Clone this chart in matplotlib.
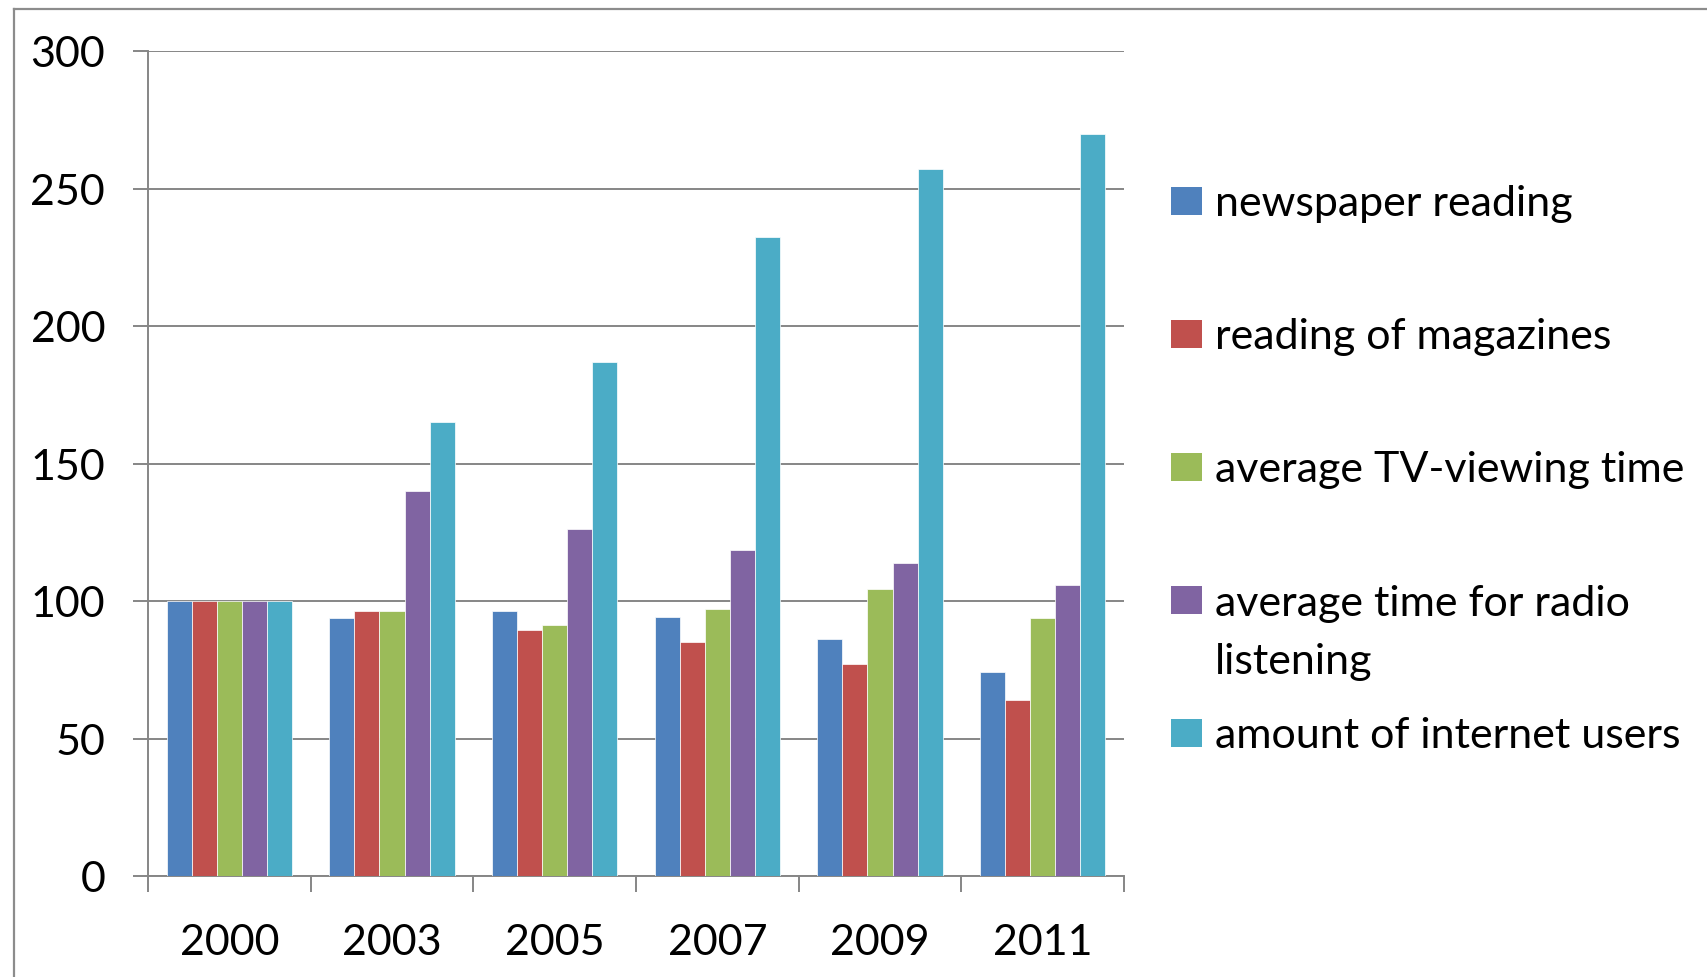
import matplotlib
matplotlib.use("Agg")
import matplotlib.pyplot as plt
import numpy as np
from matplotlib.lines import Line2D
from matplotlib.patches import Rectangle

years = ["2000", "2003", "2005", "2007", "2009", "2011"]
newspaper = [100, 94, 96.4, 94.1, 86.2, 74.1]
magazines = [100, 96.4, 89.6, 85.2, 77.2, 64.0]
tv_time = [100, 96.4, 91.1, 97.2, 104.2, 94.0]
radio_time = [100, 140, 126.1, 118.4, 113.8, 105.7]
internet_users = [100, 165, 187, 232.5, 257, 270]

series_names = ["newspaper reading", "reading of magazines", "average TV-viewing time",
                "average time for radio\nlistening", "amount of internet users"]
series_values = [newspaper, magazines, tv_time, radio_time, internet_users]
colors = ["#4F81BD", "#C0504D", "#9BBB59", "#8064A2", "#4BACC6"]
y_ticks = [0, 50, 100, 150, 200, 250, 300]

W, H = 1707, 978
plt.rcParams['font.family'] = ['Lato', 'DejaVu Sans']
fig = plt.figure(figsize=(W / 100, H / 100), dpi=100)
fig.patch.set_facecolor("white")

ax = fig.add_axes([148 / W, 1 - 877 / H, (1124 - 148) / W, (877 - 52) / H])
grid_c = "#868686"

x = np.arange(len(years))
bw = 1 / 6.5
for i, (vals, c) in enumerate(zip(series_values, colors)):
    ax.bar(x + (i - 2) * bw, vals, width=bw, color=c, edgecolor="white",
           linewidth=0.5, zorder=3)

ax.set_xlim(-0.5, len(years) - 0.5)
ax.set_ylim(0, 300)
ax.set_yticks(y_ticks)
ax.set_yticklabels([str(v) for v in y_ticks])
ax.yaxis.grid(True, color=grid_c, linewidth=1.4, zorder=0)
ax.set_axisbelow(True)

tick_fs = 31
ax.set_xticks(x)
ax.set_xticklabels(years)
ax.set_xticks(np.arange(len(years) + 1) - 0.5, minor=True)
ax.tick_params(axis="x", which="major", length=0, pad=34, labelsize=tick_fs)
ax.tick_params(axis="x", which="minor", length=11.5, width=1.4, color=grid_c, direction="out")
ax.tick_params(axis="y", which="major", length=10.8, width=1.4, color=grid_c,
               direction="out", pad=20, labelsize=tick_fs)

for s in ["top", "right"]:
    ax.spines[s].set_visible(False)
for s in ["left", "bottom"]:
    ax.spines[s].set_color(grid_c)
    ax.spines[s].set_linewidth(1.4)

# outer chart border
fig.add_artist(Line2D([14 / W, 14 / W], [0, 1 - 10 / H], transform=fig.transFigure,
                      color="#8c8c8c", linewidth=1.6))
fig.add_artist(Line2D([14 / W, 1], [1 - 10 / H, 1 - 10 / H], transform=fig.transFigure,
                      color="#8c8c8c", linewidth=1.6))

# legend
first_center = 202.4
step = 133.0
line_px = 59.0
for i, (name, c) in enumerate(zip(series_names, colors)):
    cy = first_center + i * step
    fig.add_artist(Rectangle((1171 / W, 1 - (cy + 14) / H), 31 / W, 28 / H,
                             transform=fig.transFigure, facecolor=c, edgecolor="none"))
    n_extra = name.count("\n")
    base_y = cy + 14 + n_extra * line_px
    fig.text(1215 / W, 1 - base_y / H, name, fontsize=31, va="baseline", ha="left",
             linespacing=1.65, color="black")

fig.savefig("out.png", dpi=100, facecolor="white")
